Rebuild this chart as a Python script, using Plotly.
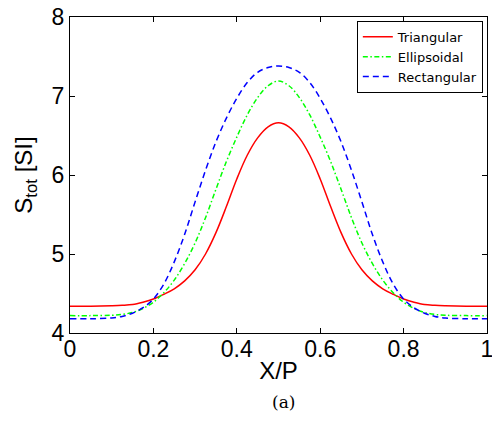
import plotly.graph_objects as go

x_vals = [0, 0.05, 0.1, 0.125, 0.15, 0.175, 0.2, 0.225, 0.25, 0.275, 0.3, 0.325, 0.35, 0.375,
          0.4, 0.425, 0.45, 0.475, 0.5, 0.525, 0.55, 0.575, 0.6, 0.625, 0.65, 0.675, 0.7,
          0.725, 0.75, 0.775, 0.8, 0.825, 0.85, 0.875, 0.9, 0.95, 1.0]

left_tri = [4.34, 4.34, 4.345, 4.35, 4.36, 4.39, 4.43, 4.49, 4.56, 4.66, 4.80, 5.00, 5.27, 5.60,
            5.95, 6.25, 6.47, 6.61, 6.66]
left_ell = [4.22, 4.22, 4.225, 4.235, 4.26, 4.31, 4.39, 4.51, 4.67, 4.88, 5.14, 5.46, 5.82, 6.17,
            6.48, 6.76, 6.98, 7.13, 7.19]
left_rect = [4.18, 4.18, 4.19, 4.21, 4.25, 4.32, 4.43, 4.62, 4.90, 5.25, 5.66, 6.06, 6.42, 6.72,
             6.97, 7.17, 7.30, 7.36, 7.38]

triangular = left_tri + left_tri[-2::-1]
ellipsoidal = left_ell + left_ell[-2::-1]
rectangular = left_rect + left_rect[-2::-1]

x_ticks = [0, 0.2, 0.4, 0.6, 0.8, 1]
x_tick_text = ["0", "0.2", "0.4", "0.6", "0.8", "1"]
y_ticks = [4, 5, 6, 7, 8]

FONT = "Liberation Sans, Arial, Helvetica, sans-serif"

fig = go.Figure()
fig.add_trace(go.Scatter(x=x_vals, y=triangular, mode="lines", name="Triangular",
                         line=dict(color="#FF0000", width=1.5, shape="spline")))
fig.add_trace(go.Scatter(x=x_vals, y=ellipsoidal, mode="lines", name="Ellipsoidal",
                         line=dict(color="#00FF00", width=1.5, dash="5px,2.5px,1.5px,2.5px", shape="spline")))
fig.add_trace(go.Scatter(x=x_vals, y=rectangular, mode="lines", name="Rectangular",
                         line=dict(color="#0000FF", width=1.5, dash="6px,4px", shape="spline")))

axis_common = dict(showline=True, linecolor="black", linewidth=1, mirror="ticks",
                   ticks="inside", ticklen=5, tickcolor="black", tickwidth=1,
                   showgrid=False, zeroline=False, automargin=False,
                   ticklabeloverflow="allow",
                   tickfont=dict(family=FONT, size=23, color="black"))

fig.update_xaxes(range=[0, 1], tickvals=x_ticks, ticktext=x_tick_text, ticklabelstandoff=-5,
                 title=dict(text="X/P", font=dict(family=FONT, size=24, color="black"), standoff=1),
                 **axis_common)
fig.update_yaxes(range=[4, 8], tickvals=y_ticks,
                 title=dict(text="S<sub>tot</sub> [SI]", font=dict(family=FONT, size=24, color="black"), standoff=12),
                 **axis_common)

fig.add_annotation(text="(a)", xref="paper", yref="paper", x=0.512, y=-0.18,
                   showarrow=False, font=dict(family="DejaVu Serif, Liberation Serif, serif", size=17, color="black"),
                   xanchor="center", yanchor="top")

fig.update_layout(
    width=492, height=426,
    margin=dict(l=70, r=5, t=17, b=93),
    plot_bgcolor="white", paper_bgcolor="white",
    showlegend=True,
    legend=dict(x=0.99, y=0.988, xanchor="right", yanchor="top",
                bgcolor="white", bordercolor="black", borderwidth=1,
                font=dict(family="DejaVu Sans, sans-serif", size=13, color="black"),
                tracegroupgap=0, itemwidth=30),
)

fig.write_html("out.html", config={"displayModeBar": False},
               post_script="document.body.style.margin='0';document.body.style.overflow='hidden';")
